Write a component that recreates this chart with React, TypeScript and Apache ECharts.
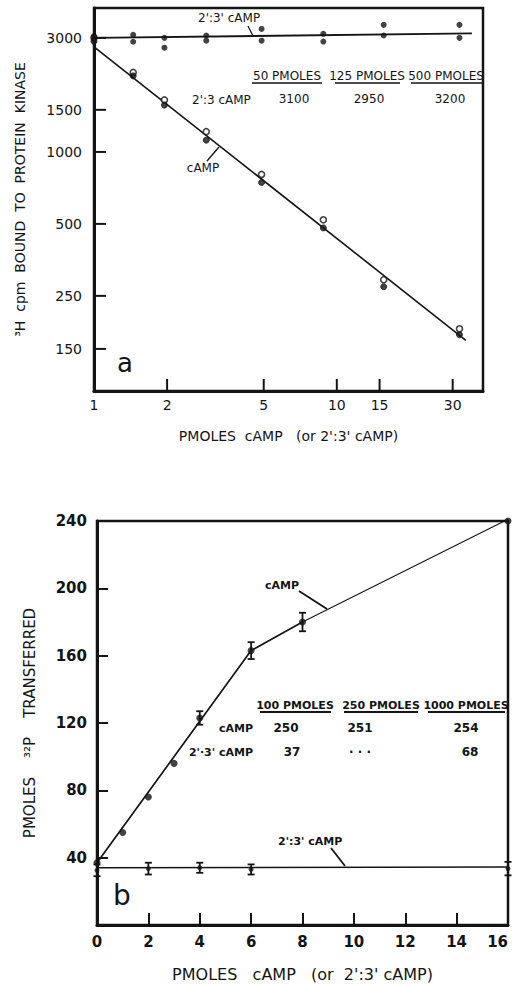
import React, { useEffect, useRef } from 'react';
import * as echarts from 'echarts';

const INK = '#141414';
const FONT = '"DejaVu Sans", sans-serif';

// ---------- Panel a (log-log) ----------
const aXRange = [1, 40];
const aYRange = [100, 4000];
const aXTicks = [1, 2, 5, 10, 15, 30];
const aYTicks = [150, 250, 500, 1000, 1500, 3000];
const aDoses = [1, 1.45, 1.95, 2.9, 4.9, 8.8, 15.6, 32];
const aCampRep1 = [3000, 2150, 1650, 1215, 805, 520, 292, 182];
const aCampRep2 = [2900, 2080, 1570, 1120, 745, 481, 273, 172];
const aAnalogRep1 = [3050, 3090, 3000, 3070, 3270, 3120, 3400, 3400];
const aAnalogRep2 = [2980, 2890, 2730, 2920, 2920, 2895, 3070, 3000];
const aCampFitX = [1, 34];
const aCampFitY = [2750, 163];
const aAnalogFitX = [1, 36];
const aAnalogFitY = [3000, 3130];
const aTableHeaders = ['50 PMOLES', '125 PMOLES', '500 PMOLES'];
const aTableAnalog = ['3100', '2950', '3200'];

// ---------- Panel b (linear) ----------
const bDoses = [0, 1, 2, 3, 4, 6, 8, 16];
const bCamp = [37, 55, 76, 96, 123, 163, 180, 240];
const bCampErr = [0, 0, 0, 0, 4, 5, 5.5, 0];
const bAnalogDoses = [0, 2, 4, 6, 16];
const bAnalog = [32.5, 33.5, 34, 33, 33.5];
const bAnalogErr = [3.5, 3.5, 3, 3, 4];
const bCampFitX = [0, 6, 8];
const bCampFitY = [37, 163, 180];
const bCampTailX = [8, 16];
const bCampTailY = [180, 241];
const bAnalogFitX = [0, 16];
const bAnalogFitY = [34, 34.5];
const bTableHeaders = ['100 PMOLES', '250 PMOLES', '1000 PMOLES'];
const bTableCamp = ['250', '251', '254'];
const bTableAnalog = ['37', '· · ·', '68'];

const zip = (xs: number[], ys: number[]) => xs.map((x, i) => [x, ys[i]]);
const zip3 = (xs: number[], ys: number[], es: number[]) =>
  xs.map((x, i) => [x, ys[i], es[i]]).filter((d) => d[2] > 0);

function textStyle(text: string, size: number, align: string, weight = 'normal', valign = 'middle') {
  return {
    text,
    font: `${weight} ${size}px ${FONT}`,
    fill: INK,
    align,
    textAlign: align,
    verticalAlign: valign,
    textVerticalAlign: valign,
  };
}

function T(x: number, y: number, text: string, size: number, align = 'left', weight = 'normal') {
  return { type: 'text', x, y, silent: true, z: 100, style: textStyle(text, size, align, weight) };
}

function L(x1: number, y1: number, x2: number, y2: number, w = 1.3) {
  return { type: 'line', silent: true, z: 100, shape: { x1, y1, x2, y2 }, style: { stroke: INK, lineWidth: w } };
}

const logYTickItem = (_p: any, api: any) => {
  const v = api.value(1);
  const p = api.coord([api.value(0), v]);
  return {
    type: 'group',
    children: [
      { type: 'line', shape: { x1: p[0], y1: p[1], x2: p[0] + 12, y2: p[1] }, style: { stroke: INK, lineWidth: 2 } },
      { type: 'text', x: p[0] - 12, y: p[1], style: textStyle(String(v), 14, 'right') },
    ],
  };
};

const logXTickItem = (_p: any, api: any) => {
  const v = api.value(0);
  const p = api.coord([v, api.value(1)]);
  return {
    type: 'group',
    children: [
      { type: 'line', shape: { x1: p[0], y1: p[1], x2: p[0], y2: p[1] - 12 }, style: { stroke: INK, lineWidth: 2 } },
      { type: 'text', x: p[0], y: p[1] + 14, style: textStyle(String(v), 14, 'center') },
    ],
  };
};

const errorBarItem = (_p: any, api: any) => {
  const x = api.value(0);
  const y = api.value(1);
  const e = api.value(2);
  const hi = api.coord([x, y + e]);
  const lo = api.coord([x, y - e]);
  const h = 3.5;
  const st = { stroke: INK, lineWidth: 1.8 };
  return {
    type: 'group',
    children: [
      { type: 'line', shape: { x1: hi[0], y1: hi[1], x2: lo[0], y2: lo[1] }, style: st },
      { type: 'line', shape: { x1: hi[0] - h, y1: hi[1], x2: hi[0] + h, y2: hi[1] }, style: st },
      { type: 'line', shape: { x1: lo[0] - h, y1: lo[1], x2: lo[0] + h, y2: lo[1] }, style: st },
    ],
  };
};

const axisNameStyle = (size: number, weight = 'normal') => ({
  color: INK,
  fontSize: size,
  fontFamily: FONT,
  fontWeight: weight,
});

const hiddenLogAxis = (gridIndex: number, range: number[], name: string, gap: number, rotate?: number) => ({
  type: 'log',
  logBase: 10,
  gridIndex,
  min: range[0],
  max: range[1],
  axisLine: { show: true, onZero: false, lineStyle: { color: INK, width: 3 } },
  axisTick: { show: false },
  axisLabel: { show: false },
  splitLine: { show: false },
  minorTick: { show: false },
  name,
  nameLocation: 'middle',
  nameGap: gap,
  nameRotate: rotate,
  nameMoveOverlap: false,
  nameTextStyle: axisNameStyle(14),
});

const aHeadX = [287, 367, 446];
const aHeadSpan = [[252, 322], [335, 400], [411, 482]];
const aValX = [294, 369, 450];
const bHeadX = [295, 381, 466];
const bHeadSpan = [[260, 331], [344, 418], [428, 505]];
const bCampValX = [286, 360, 466];
const bAnalogValX = [292, 360, 470];

const option: any = {
  animation: false,
  backgroundColor: '#ffffff',
  textStyle: { fontFamily: FONT, color: INK },
  grid: [
    { left: 94, top: 8, width: 389, height: 383, show: true, borderColor: INK, borderWidth: 2.5, backgroundColor: 'transparent', containLabel: false, outerBoundsMode: 'none' },
    { left: 97, top: 521, width: 411, height: 404, show: true, borderColor: INK, borderWidth: 2.5, backgroundColor: 'transparent', containLabel: false, outerBoundsMode: 'none' },
  ],
  xAxis: [
    hiddenLogAxis(0, aXRange, "PMOLES  cAMP   (or 2':3' cAMP)", 38),
    {
      type: 'value',
      gridIndex: 1,
      min: 0,
      max: 16,
      interval: 2,
      axisLine: { show: true, onZero: false, lineStyle: { color: INK, width: 3 } },
      axisTick: { show: true, inside: true, length: 12, lineStyle: { color: INK, width: 2 } },
      axisLabel: { show: true, margin: 9, color: INK, fontSize: 15, fontWeight: 'bold', fontFamily: FONT, alignMaxLabel: 'right' },
      splitLine: { show: false },
      name: "PMOLES   cAMP   (or  2':3' cAMP)",
      nameLocation: 'middle',
      nameGap: 41,
      nameMoveOverlap: false,
      nameTextStyle: axisNameStyle(16),
    },
  ],
  yAxis: [
    hiddenLogAxis(0, aYRange, '³H  cpm  BOUND  TO  PROTEIN  KINASE', 67, 90),
    {
      type: 'value',
      gridIndex: 1,
      min: 0,
      max: 240,
      interval: 40,
      axisLine: { show: true, onZero: false, lineStyle: { color: INK, width: 3 } },
      axisTick: { show: true, inside: true, length: 11, lineStyle: { color: INK, width: 2 } },
      axisLabel: { show: true, margin: 10, color: INK, fontSize: 15, fontWeight: 'bold', fontFamily: FONT, showMinLabel: false },
      splitLine: { show: false },
      name: 'PMOLES    ³²P    TRANSFERRED',
      nameLocation: 'middle',
      nameGap: 60,
      nameRotate: 90,
      nameMoveOverlap: false,
      nameTextStyle: axisNameStyle(15),
    },
  ],
  series: [
    // panel a
    {
      name: 'cAMP fit', type: 'line', xAxisIndex: 0, yAxisIndex: 0, data: zip(aCampFitX, aCampFitY),
      symbol: 'none', clip: false, silent: true, lineStyle: { color: INK, width: 1.6 }, z: 3,
    },
    {
      name: "2':3' cAMP fit", type: 'line', xAxisIndex: 0, yAxisIndex: 0, data: zip(aAnalogFitX, aAnalogFitY),
      symbol: 'none', clip: false, silent: true, lineStyle: { color: INK, width: 1.8 }, z: 3,
    },
    {
      name: 'cAMP (rep 1)', type: 'scatter', xAxisIndex: 0, yAxisIndex: 0, data: zip(aDoses, aCampRep1),
      symbol: 'circle', symbolSize: 6, clip: false, silent: true,
      itemStyle: { color: '#ffffff', borderColor: INK, borderWidth: 1.6 }, z: 5,
    },
    {
      name: 'cAMP (rep 2)', type: 'scatter', xAxisIndex: 0, yAxisIndex: 0, data: zip(aDoses, aCampRep2),
      symbol: 'circle', symbolSize: 6, clip: false, silent: true,
      itemStyle: { color: INK, borderColor: INK, borderWidth: 1 }, z: 5,
    },
    {
      name: "2':3' cAMP (rep 1)", type: 'scatter', xAxisIndex: 0, yAxisIndex: 0, data: zip(aDoses, aAnalogRep1),
      symbol: 'circle', symbolSize: 6, clip: false, silent: true, itemStyle: { color: INK }, z: 5,
    },
    {
      name: "2':3' cAMP (rep 2)", type: 'scatter', xAxisIndex: 0, yAxisIndex: 0, data: zip(aDoses, aAnalogRep2),
      symbol: 'circle', symbolSize: 6, clip: false, silent: true, itemStyle: { color: INK }, z: 5,
    },
    {
      name: 'a y ticks', type: 'custom', xAxisIndex: 0, yAxisIndex: 0, clip: false, silent: true, z: 6,
      data: aYTicks.map((v) => [aXRange[0], v]), renderItem: logYTickItem,
    },
    {
      name: 'a x ticks', type: 'custom', xAxisIndex: 0, yAxisIndex: 0, clip: false, silent: true, z: 6,
      data: aXTicks.map((v) => [v, aYRange[0]]), renderItem: logXTickItem,
    },
    // panel b
    {
      name: 'cAMP line', type: 'line', xAxisIndex: 1, yAxisIndex: 1, data: zip(bCampFitX, bCampFitY),
      symbol: 'none', clip: false, silent: true, lineStyle: { color: INK, width: 1.7 }, z: 3,
    },
    {
      name: 'cAMP line (tail)', type: 'line', xAxisIndex: 1, yAxisIndex: 1, data: zip(bCampTailX, bCampTailY),
      symbol: 'none', clip: false, silent: true, lineStyle: { color: INK, width: 1.2 }, z: 3,
    },
    {
      name: "2':3' cAMP line", type: 'line', xAxisIndex: 1, yAxisIndex: 1, data: zip(bAnalogFitX, bAnalogFitY),
      symbol: 'none', clip: false, silent: true, lineStyle: { color: INK, width: 1.6 }, z: 3,
    },
    {
      name: 'cAMP', type: 'scatter', xAxisIndex: 1, yAxisIndex: 1, data: zip(bDoses, bCamp),
      symbol: 'circle', symbolSize: 7, clip: false, silent: true, itemStyle: { color: INK }, z: 5,
    },
    {
      name: 'cAMP error', type: 'custom', xAxisIndex: 1, yAxisIndex: 1, clip: false, silent: true, z: 5,
      data: zip3(bDoses, bCamp, bCampErr), renderItem: errorBarItem,
    },
    {
      name: "2':3' cAMP", type: 'scatter', xAxisIndex: 1, yAxisIndex: 1, data: zip(bAnalogDoses, bAnalog),
      symbol: 'circle', symbolSize: 5, clip: false, silent: true, itemStyle: { color: INK }, z: 5,
    },
    {
      name: "2':3' cAMP error", type: 'custom', xAxisIndex: 1, yAxisIndex: 1, clip: false, silent: true, z: 5,
      data: zip3(bAnalogDoses, bAnalog, bAnalogErr), renderItem: errorBarItem,
    },
  ],
  graphic: [
    // panel a annotations
    T(198, 18, "2':3' cAMP", 12, 'left'),
    L(248, 26, 253, 36),
    ...aTableHeaders.map((h, i) => T(aHeadX[i], 76, h, 12, 'center')),
    ...aHeadSpan.map((s) => L(s[0], 83, s[1], 83, 1.4)),
    T(192, 100, "2':3 cAMP", 12, 'left'),
    ...aTableAnalog.map((v, i) => T(aValX[i], 99, v, 12, 'center')),
    T(203, 168, 'cAMP', 12, 'center'),
    L(207, 161, 219, 147),
    T(125, 363, 'a', 26, 'center'),
    // panel b annotations
    T(282, 585, 'cAMP', 11, 'center', 'bold'),
    L(299, 591, 327, 609, 1.8),
    ...bTableHeaders.map((h, i) => T(bHeadX[i], 705, h, 11, 'center', 'bold')),
    ...bHeadSpan.map((s) => L(s[0], 712, s[1], 712, 1.8)),
    T(253, 728, 'cAMP', 11, 'right', 'bold'),
    ...bTableCamp.map((v, i) => T(bCampValX[i], 728, v, 12, 'center', 'bold')),
    T(253, 752, "2'·3' cAMP", 11, 'right', 'bold'),
    ...bTableAnalog.map((v, i) => T(bAnalogValX[i], 752, v, 12, 'center', 'bold')),
    T(278, 841, "2':3' cAMP", 11, 'left', 'bold'),
    L(331, 848, 345, 866, 1.8),
    T(122, 895, 'b', 28, 'center'),
  ],
};

export default function App() {
  const ref = useRef<HTMLDivElement>(null);
  useEffect(() => {
    if (!ref.current) return;
    const chart = echarts.init(ref.current, null, { renderer: 'svg' });
    chart.setOption(option);
    return () => chart.dispose();
  }, []);
  return (
    <div
      ref={ref}
      style={{ position: 'absolute', left: 0, top: 0, width: 512, height: 984, background: '#ffffff' }}
    />
  );
}
